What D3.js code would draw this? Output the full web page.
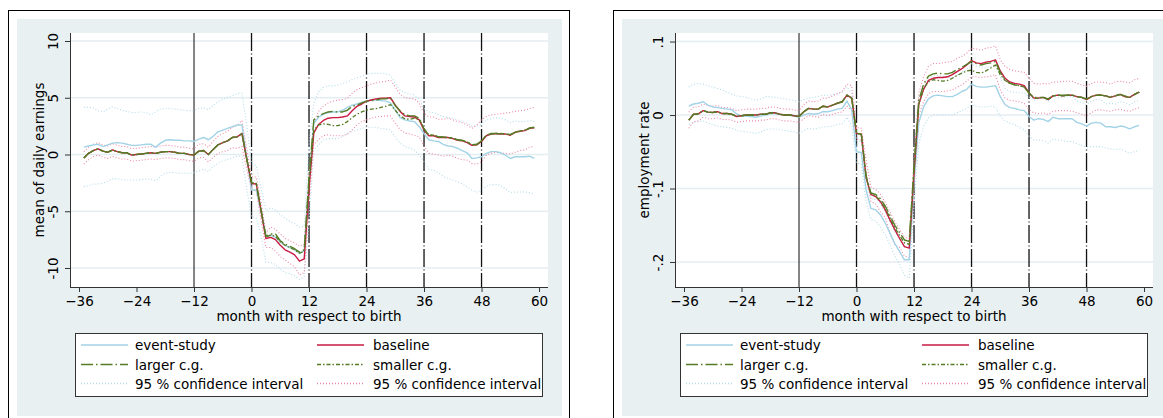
<!DOCTYPE html>
<html><head><meta charset="utf-8">
<script src="https://cdn.jsdelivr.net/npm/d3@7"></script>
<style>
body{margin:0;background:#fff}
svg{display:block}
text{font-family:"DejaVu Sans",sans-serif;fill:#000;font-size:13.5px}
</style>
</head><body>
<svg id="c" width="1163" height="418"></svg>
<script>
// ---------------- data ----------------
const months = d3.range(-35, 60);           // -35 ... 59
const xTickValues = [-36,-24,-12,0,12,24,36,48,60];
const solidRefMonths = [-12];
const dashedRefMonths = [0,12,24,36,48];
const xTitle = "month with respect to birth";
const legendLabels = ["event-study","baseline","larger c.g.","smaller c.g.","95 % confidence interval","95 % confidence interval"];

// left panel: mean of daily earnings
const earnTicks = [10,5,0,-5,-10];
const earnTickLabels = ["10","5","0","-5","-10"];
const earnEventStudy = [
 0.65,0.75,0.85,0.9,0.7,0.85,1.0,1.05,1.0,0.9,0.8,0.8,0.85,0.9,0.9,0.65,1.0,1.25,1.3,1.25,1.25,1.2,1.2,1.15,1.35,1.5,1.3,1.6,2.0,2.15,2.3,2.45,2.6,2.6,-0.3,
 -3.1,-3.15,-5.0,-7.2,-7.1,-7.3,-7.7,-8.0,-8.2,-8.4,-8.7,-8.5,-2.5,
 2.75,3.3,3.55,3.7,3.75,3.75,3.9,4.15,4.35,4.45,4.6,4.7,4.8,4.8,4.75,4.7,4.55,3.9,3.25,3.05,2.95,2.9,2.45,1.85,1.3,1.2,1.15,0.9,0.75,0.7,0.55,0.35,0.15,-0.35,-0.3,-0.2,0.1,0.25,0.25,0.15,-0.05,-0.35,-0.2,-0.2,-0.2,-0.15,-0.35];
const earnEventStudyHi = [
 4.15,4.15,4.1,3.85,3.75,4.0,4.2,4.05,3.9,3.8,3.7,3.7,3.75,3.7,3.5,3.75,4.0,4.05,4.05,4.0,3.95,3.9,3.85,3.9,4.05,4.1,3.95,4.3,4.65,4.85,5.05,5.2,5.35,5.4,2.6,
 -0.8,-1.0,-3.0,-4.9,-4.7,-4.9,-5.3,-5.6,-5.9,-6.1,-6.4,-6.3,1.0,
 4.5,5.55,5.9,6.05,6.05,6.1,6.25,6.4,6.6,6.75,6.9,7.05,7.15,7.15,7.15,7.1,7.0,6.25,5.7,5.45,5.35,5.25,4.8,4.05,3.75,3.7,3.5,3.35,3.25,3.2,3.05,2.9,2.75,2.5,2.5,2.65,3.05,3.15,3.25,3.2,3.05,2.8,2.95,2.9,2.9,3.0,2.9];
const earnEventStudyLo = [
 -2.85,-2.75,-2.6,-2.6,-2.55,-2.35,-2.15,-2.15,-2.2,-2.25,-2.25,-2.25,-2.2,-2.15,-2.2,-2.3,-1.95,-1.65,-1.6,-1.6,-1.65,-1.65,-1.65,-1.6,-1.45,-1.3,-1.5,-1.05,-0.8,-0.55,-0.45,-0.3,-0.15,-0.15,-3.0,
 -5.5,-5.6,-7.2,-9.5,-9.5,-9.7,-10.1,-10.4,-10.5,-10.7,-11.0,-10.8,-6.0,
 0.4,0.85,1.3,1.4,1.4,1.4,1.55,1.85,2.0,2.15,2.3,2.4,2.4,2.4,2.3,2.25,2.15,1.55,1.0,0.7,0.55,0.4,-0.05,-0.65,-1.3,-1.4,-1.6,-1.95,-2.1,-2.25,-2.4,-2.6,-2.85,-3.15,-3.3,-3.15,-2.8,-2.65,-2.65,-2.7,-3.05,-3.35,-3.3,-3.3,-3.3,-3.35,-3.5];
const earnBaseline = [
 -0.3,0.1,0.35,0.5,0.3,0.2,0.4,0.25,0.15,0.15,-0.05,0.0,0.05,0.1,0.15,0.1,0.2,0.25,0.25,0.2,0.1,0.1,0.0,-0.05,0.3,0.35,0.0,0.45,0.85,1.05,1.2,1.5,1.55,1.85,-0.4,
 -2.55,-2.6,-5.0,-7.4,-7.3,-7.5,-8.0,-8.4,-8.6,-8.85,-9.4,-9.2,-3.0,
 1.9,2.65,3.0,3.2,3.25,3.25,3.3,3.4,3.85,4.25,4.45,4.7,4.8,4.9,4.95,4.95,5.0,4.35,3.8,3.4,3.35,3.3,3.05,2.15,1.65,1.65,1.5,1.5,1.5,1.4,1.25,1.2,1.05,0.8,0.85,1.15,1.65,1.8,1.85,1.8,1.8,1.7,1.95,2.05,2.1,2.3,2.35];
const earnBaselineHi = [
 0.25,0.65,0.9,1.05,0.85,0.75,0.95,0.8,0.7,0.7,0.5,0.55,0.6,0.65,0.7,0.65,0.75,0.8,0.8,0.75,0.65,0.65,0.55,0.5,0.9,0.95,0.65,1.15,1.6,1.85,2.05,2.4,2.55,3.0,0.5,
 -1.95,-2.0,-4.2,-6.9,-6.4,-6.6,-7.0,-7.4,-7.6,-7.8,-8.1,-7.9,-1.8,
 2.9,3.8,4.25,4.55,4.7,4.8,4.85,4.95,5.4,5.7,5.9,6.05,6.2,6.3,6.4,6.45,6.55,5.95,5.3,5.0,4.95,4.9,4.5,3.65,3.3,3.3,3.1,3.1,3.2,3.05,2.9,2.8,2.6,2.3,2.6,3.05,3.35,3.5,3.55,3.6,3.65,3.7,3.8,3.85,3.9,4.05,4.15];
const earnBaselineLo = [
 -0.85,-0.45,-0.2,-0.05,-0.25,-0.35,-0.15,-0.3,-0.4,-0.4,-0.6,-0.55,-0.5,-0.45,-0.4,-0.45,-0.35,-0.3,-0.3,-0.35,-0.45,-0.45,-0.55,-0.6,-0.3,-0.25,-0.65,-0.25,0.1,0.25,0.35,0.6,0.55,0.7,-1.3,
 -3.15,-3.2,-5.8,-8.2,-8.2,-8.5,-9.0,-9.3,-9.6,-9.9,-10.6,-10.4,-4.2,
 0.9,1.3,1.65,1.75,1.65,1.65,1.65,1.8,2.15,2.6,2.9,3.05,3.2,3.3,3.35,3.4,3.4,2.75,2.2,1.9,1.8,1.7,1.55,0.75,0.1,0.05,-0.05,-0.15,-0.05,-0.15,-0.35,-0.45,-0.5,-0.8,-0.85,-0.65,-0.05,0.1,0.2,0.15,0.1,0.05,0.2,0.35,0.4,0.65,0.7];
const earnLargerCG = [
 -0.3,0.1,0.35,0.5,0.3,0.2,0.4,0.25,0.15,0.15,-0.05,0.0,0.05,0.1,0.15,0.1,0.2,0.25,0.25,0.2,0.1,0.1,0.0,-0.05,0.3,0.35,0.0,0.45,0.85,1.05,1.2,1.5,1.55,1.85,-0.35,
 -2.5,-2.55,-4.9,-7.2,-7.0,-7.0,-7.6,-7.9,-8.1,-8.3,-8.6,-8.4,-2.0,
 3.05,3.4,3.6,3.75,3.8,3.75,3.75,3.9,4.25,4.35,4.55,4.7,4.75,4.8,4.9,4.9,5.0,4.3,3.85,3.5,3.4,3.4,3.2,2.25,1.7,1.7,1.55,1.55,1.5,1.45,1.3,1.25,1.1,0.85,0.9,1.2,1.7,1.85,1.85,1.8,1.85,1.75,1.95,2.1,2.1,2.35,2.4];
const earnSmallerCG = [
 -0.3,0.1,0.35,0.5,0.3,0.2,0.4,0.25,0.15,0.15,-0.05,0.0,0.05,0.1,0.15,0.1,0.2,0.25,0.25,0.2,0.1,0.1,0.0,-0.05,0.3,0.35,0.0,0.45,0.85,1.05,1.2,1.5,1.55,1.85,-0.35,
 -2.5,-2.55,-4.95,-7.3,-7.1,-7.2,-7.7,-8.0,-8.2,-8.4,-8.7,-8.5,-2.5,
 2.15,2.6,2.7,2.65,2.55,2.55,2.65,2.9,3.25,3.55,3.75,3.9,4.0,4.05,4.15,4.25,4.4,3.9,3.4,3.15,3.1,3.2,3.1,2.3,1.7,1.7,1.55,1.5,1.5,1.45,1.3,1.2,1.1,0.85,0.85,1.2,1.7,1.8,1.85,1.85,1.8,1.75,1.95,2.05,2.15,2.3,2.35];

// right panel: employment rate
const empTicks = [0.1,0,-0.1,-0.2];
const empTickLabels = [".1","0","-.1","-.2"];
const empEventStudy = [
 0.012,0.015,0.016,0.018,0.0135,0.011,0.010,0.009,0.008,0.007,0.0015,-0.0015,-0.0015,-0.002,-0.003,-0.0015,0.0,0.002,0.002,0.001,0.0,0.0,-0.0015,-0.003,0.0,0.002,0.001,0.002,0.0045,0.0045,0.006,0.008,0.009,0.019,0.007,
 -0.050,-0.051,-0.102,-0.127,-0.129,-0.136,-0.147,-0.161,-0.175,-0.186,-0.197,-0.197,-0.09,
 -0.010,0.011,0.022,0.026,0.027,0.026,0.025,0.025,0.028,0.032,0.035,0.042,0.039,0.038,0.038,0.039,0.040,0.025,0.014,0.010,0.009,0.007,0.006,-0.002,-0.007,-0.005,-0.006,-0.009,-0.003,-0.005,-0.005,-0.005,-0.005,-0.010,-0.012,-0.015,-0.011,-0.010,-0.011,-0.016,-0.016,-0.017,-0.015,-0.016,-0.019,-0.016,-0.014];
const empEventStudyHi = [
 0.038,0.042,0.043,0.042,0.040,0.038,0.036,0.034,0.031,0.028,0.026,0.025,0.024,0.022,0.020,0.022,0.025,0.025,0.024,0.023,0.022,0.021,0.020,0.018,0.021,0.023,0.024,0.025,0.027,0.027,0.028,0.029,0.031,0.038,0.030,
 -0.035,-0.036,-0.087,-0.113,-0.115,-0.121,-0.132,-0.146,-0.159,-0.170,-0.180,-0.180,-0.07,
 0.022,0.040,0.050,0.053,0.054,0.053,0.051,0.051,0.054,0.058,0.062,0.070,0.066,0.065,0.065,0.066,0.068,0.052,0.036,0.032,0.031,0.030,0.030,0.025,0.020,0.023,0.022,0.019,0.026,0.024,0.024,0.025,0.025,0.019,0.017,0.014,0.019,0.021,0.021,0.015,0.016,0.015,0.018,0.017,0.014,0.018,0.020];
const empEventStudyLo = [
 -0.013,-0.010,-0.009,-0.008,-0.011,-0.013,-0.015,-0.016,-0.017,-0.018,-0.021,-0.022,-0.023,-0.024,-0.025,-0.023,-0.020,-0.019,-0.019,-0.020,-0.021,-0.022,-0.023,-0.025,-0.021,-0.018,-0.019,-0.018,-0.016,-0.016,-0.015,-0.013,-0.012,-0.003,-0.015,
 -0.065,-0.067,-0.118,-0.142,-0.144,-0.152,-0.163,-0.177,-0.192,-0.203,-0.218,-0.222,-0.12,
 -0.040,-0.015,-0.004,0.0,0.0,0.0,0.0,0.0,0.003,0.006,0.009,0.014,0.012,0.011,0.011,0.012,0.011,-0.002,-0.008,-0.011,-0.013,-0.017,-0.020,-0.029,-0.034,-0.034,-0.035,-0.038,-0.033,-0.034,-0.035,-0.036,-0.036,-0.039,-0.041,-0.044,-0.043,-0.043,-0.043,-0.045,-0.046,-0.047,-0.046,-0.049,-0.052,-0.050,-0.048];
const empBaseline = [
 -0.007,0.001,0.0015,0.006,0.004,0.0035,0.0045,0.002,0.002,0.001,-0.002,-0.001,0.0,0.0,0.0,0.001,0.001,0.003,0.003,0.001,0.0,0.0,-0.001,-0.002,0.0045,0.009,0.008,0.008,0.012,0.011,0.0135,0.016,0.018,0.027,0.023,
 -0.025,-0.026,-0.085,-0.108,-0.111,-0.118,-0.129,-0.143,-0.156,-0.168,-0.179,-0.181,-0.08,
 0.015,0.035,0.047,0.050,0.051,0.051,0.052,0.055,0.059,0.063,0.068,0.074,0.071,0.070,0.072,0.073,0.075,0.060,0.050,0.045,0.043,0.042,0.040,0.030,0.023,0.023,0.024,0.021,0.026,0.027,0.026,0.027,0.027,0.025,0.024,0.021,0.025,0.027,0.027,0.026,0.024,0.026,0.028,0.025,0.024,0.028,0.031];
const empBaselineHi = [
 0.004,0.011,0.011,0.015,0.013,0.012,0.013,0.010,0.010,0.009,0.006,0.007,0.008,0.008,0.008,0.009,0.009,0.011,0.011,0.009,0.008,0.008,0.007,0.006,0.014,0.019,0.018,0.019,0.023,0.023,0.026,0.029,0.032,0.042,0.040,
 -0.017,-0.018,-0.062,-0.098,-0.101,-0.108,-0.119,-0.132,-0.145,-0.156,-0.166,-0.168,-0.06,
 0.030,0.052,0.066,0.070,0.070,0.071,0.072,0.073,0.077,0.080,0.084,0.091,0.090,0.088,0.091,0.092,0.094,0.075,0.066,0.062,0.060,0.059,0.058,0.050,0.043,0.042,0.043,0.042,0.045,0.045,0.046,0.046,0.046,0.043,0.041,0.039,0.043,0.045,0.045,0.044,0.042,0.045,0.046,0.045,0.044,0.048,0.050];
const empBaselineLo = [
 -0.018,-0.009,-0.008,-0.003,-0.005,-0.005,-0.004,-0.006,-0.006,-0.007,-0.010,-0.009,-0.008,-0.008,-0.008,-0.007,-0.007,-0.005,-0.005,-0.007,-0.008,-0.008,-0.009,-0.010,-0.005,-0.001,-0.002,-0.003,0.001,-0.001,0.001,0.003,0.004,0.012,0.006,
 -0.033,-0.034,-0.078,-0.118,-0.121,-0.132,-0.139,-0.162,-0.177,-0.180,-0.192,-0.194,-0.10,
 0.000,0.018,0.029,0.032,0.032,0.032,0.033,0.034,0.038,0.041,0.046,0.052,0.052,0.051,0.052,0.053,0.055,0.034,0.023,0.020,0.019,0.018,0.016,0.007,0.003,0.002,0.003,0.001,0.005,0.006,0.006,0.006,0.005,0.003,0.001,-0.001,0.003,0.007,0.007,0.006,0.005,0.007,0.008,0.006,0.005,0.008,0.010];
const empLargerCG = [
 -0.007,0.001,0.0015,0.006,0.004,0.0035,0.0045,0.002,0.002,0.001,-0.002,-0.001,0.0,0.0,0.0,0.001,0.001,0.003,0.003,0.001,0.0,0.0,-0.001,-0.002,0.0045,0.009,0.008,0.008,0.012,0.011,0.0135,0.016,0.018,0.027,0.023,
 -0.025,-0.026,-0.083,-0.106,-0.108,-0.114,-0.124,-0.137,-0.150,-0.160,-0.170,-0.172,-0.07,
 0.020,0.042,0.053,0.056,0.057,0.056,0.056,0.058,0.062,0.065,0.069,0.073,0.070,0.068,0.070,0.071,0.073,0.058,0.048,0.043,0.041,0.040,0.038,0.030,0.024,0.024,0.024,0.022,0.026,0.027,0.027,0.027,0.027,0.025,0.024,0.022,0.025,0.027,0.027,0.026,0.025,0.026,0.028,0.026,0.024,0.028,0.031];
const empSmallerCG = [
 -0.007,0.001,0.0015,0.006,0.004,0.0035,0.0045,0.002,0.002,0.001,-0.002,-0.001,0.0,0.0,0.0,0.001,0.001,0.003,0.003,0.001,0.0,0.0,-0.001,-0.002,0.0045,0.009,0.008,0.008,0.012,0.011,0.0135,0.016,0.018,0.027,0.023,
 -0.025,-0.026,-0.085,-0.107,-0.110,-0.117,-0.127,-0.140,-0.153,-0.164,-0.174,-0.176,-0.075,
 0.015,0.036,0.045,0.048,0.047,0.046,0.047,0.050,0.054,0.057,0.060,0.061,0.058,0.057,0.060,0.064,0.068,0.055,0.047,0.043,0.041,0.040,0.038,0.030,0.023,0.023,0.024,0.021,0.026,0.027,0.026,0.027,0.027,0.025,0.024,0.021,0.025,0.027,0.027,0.026,0.024,0.026,0.028,0.025,0.024,0.028,0.031];

// ---------------- styles ----------------
const C_BLUE = "#a3d3e6", C_RED = "#c91a42", C_GREEN = "#557b25",
      C_BLUE_CI = "#b3dcea", C_RED_CI = "#eb86a4";
const seriesStyles = [
  {key:"es",   color:C_BLUE,   width:1.4, dash:null},
  {key:"base", color:C_RED,    width:1.4, dash:null},
  {key:"large",color:C_GREEN,  width:1.4, dash:"12,3,1.5,3"},
  {key:"small",color:C_GREEN,  width:1.3, dash:"4,2,1.5,2"},
  {key:"esCI", color:C_BLUE_CI,width:1.1, dash:"1,2"},
  {key:"baseCI",color:C_RED_CI,width:1.1, dash:"1,2"}
];

const svg = d3.select("#c");

function drawPanel(ox, cfg) {
  const g = svg.append("g").attr("transform", `translate(${ox},0)`);
  // outer frame + background
  g.append("rect").attr("x",8.5).attr("y",10.5).attr("width",561).attr("height",430)
    .attr("fill","#fff").attr("stroke","#000").attr("stroke-width",1);
  g.append("rect").attr("x",17).attr("y",19).attr("width",545).attr("height",397).attr("fill","#e9f0f2");
  const L = 70, R = 548, T = 33, B = 287;
  g.append("rect").attr("x",L).attr("y",T).attr("width",R-L).attr("height",B-T).attr("fill","#fff");

  const x = d3.scaleLinear().domain([-37.878, 61.87]).range([L, R]);
  const y = d3.scaleLinear().domain(cfg.yDomain).range([B, T]);

  // gridlines
  g.append("g").selectAll("line").data(cfg.ticks).join("line")
    .attr("x1",L).attr("x2",R).attr("y1",d=>y(d)).attr("y2",d=>y(d))
    .attr("stroke","#e4edf0").attr("stroke-width",1.6);

  // reference lines
  g.append("g").selectAll("line").data(solidRefMonths).join("line")
    .attr("x1",d=>x(d)).attr("x2",d=>x(d)).attr("y1",T).attr("y2",B)
    .attr("stroke","#222").attr("stroke-width",1.1);
  g.append("g").selectAll("line").data(dashedRefMonths).join("line")
    .attr("x1",d=>x(d)).attr("x2",d=>x(d)).attr("y1",T).attr("y2",B)
    .attr("stroke","#111").attr("stroke-width",1.3).attr("stroke-dasharray","18,2.5,1,2.5");

  // series
  const clipId = "clip" + ox;
  g.append("clipPath").attr("id",clipId).append("rect").attr("x",L).attr("y",T).attr("width",R-L).attr("height",B-T);
  const line = d3.line().x(d=>x(d[0])).y(d=>y(d[1]));
  const plotG = g.append("g").attr("clip-path",`url(#${clipId})`);
  const order = [
    ["esCI", cfg.esLo], ["esCI", cfg.esHi],
    ["baseCI", cfg.baseLo], ["baseCI", cfg.baseHi],
    ["es", cfg.es], ["base", cfg.base], ["small", cfg.small], ["large", cfg.large]
  ];
  order.forEach(([k, vals]) => {
    const st = seriesStyles.find(s => s.key === k);
    plotG.append("path").datum(months.map((m,i)=>[m, vals[i]]))
      .attr("d", line).attr("fill","none")
      .attr("stroke", st.color).attr("stroke-width", st.width)
      .attr("stroke-dasharray", st.dash).attr("stroke-linejoin","round");
  });

  // axes
  const yAxis = d3.axisLeft(y).tickValues(cfg.ticks).tickFormat((d,i)=>cfg.tickLabels[i]).tickSize(5).tickSizeOuter(0);
  const ya = g.append("g").attr("transform",`translate(${L},0)`).call(yAxis);
  ya.select(".domain").remove();
  ya.selectAll(".tick line").attr("stroke","#333");
  ya.selectAll(".tick text").attr("transform","rotate(-90)").attr("x",0).attr("y",-12)
    .attr("dy",0).attr("text-anchor","middle").attr("font-size","13.5px")
    .attr("font-family","DejaVu Sans").attr("fill","#000");
  g.append("line").attr("x1",L+0.5).attr("x2",L+0.5).attr("y1",T).attr("y2",B+0.5).attr("stroke","#333").attr("stroke-width",1);

  const xAxis = d3.axisBottom(x).tickValues(xTickValues).tickFormat(d3.format("d")).tickSize(5).tickSizeOuter(0);
  const xa = g.append("g").attr("transform",`translate(0,${B})`).call(xAxis);
  xa.select(".domain").remove();
  xa.selectAll(".tick line").attr("stroke","#333");
  xa.selectAll(".tick text").attr("y",19).attr("dy",0).attr("font-size","13.5px")
    .attr("font-family","DejaVu Sans").attr("fill","#000");
  g.append("line").attr("x1",L).attr("x2",R).attr("y1",B+0.5).attr("y2",B+0.5).attr("stroke","#333").attr("stroke-width",1);

  // titles
  g.append("text").attr("x",(L+R)/2).attr("y",320.5).attr("text-anchor","middle").text(xTitle);
  g.append("text").attr("transform",`translate(44,${(T+B)/2}) rotate(-90)`).attr("text-anchor","middle").text(cfg.yTitle);

  // legend
  const lg = g.append("g");
  lg.append("rect").attr("x",75.5).attr("y",333.5).attr("width",467).attr("height",63)
    .attr("fill","#fff").attr("stroke","#333").attr("stroke-width",1);
  const cols = [{sx:81, tx:135},{sx:317, tx:373}];
  const rowsY = [345, 364.5, 383.5];
  const keys = ["es","base","large","small","esCI","baseCI"];
  keys.forEach((k,i)=>{
    const c = cols[i%2], r = rowsY[Math.floor(i/2)];
    const st = seriesStyles.find(s=>s.key===k);
    lg.append("line").attr("x1",c.sx).attr("x2",c.sx+47).attr("y1",r).attr("y2",r)
      .attr("stroke",st.color).attr("stroke-width",st.width+0.3).attr("stroke-dasharray",st.dash);
    lg.append("text").attr("x",c.tx).attr("y",r+5).text(legendLabels[i]);
  });
}

drawPanel(0, {
  yDomain:[-11.674, 10.705], ticks:earnTicks, tickLabels:earnTickLabels, yTitle:"mean of daily earnings",
  es:earnEventStudy, esHi:earnEventStudyHi, esLo:earnEventStudyLo,
  base:earnBaseline, baseHi:earnBaselineHi, baseLo:earnBaselineLo,
  large:earnLargerCG, small:earnSmallerCG
});
drawPanel(605, {
  yDomain:[-0.234, 0.1116], ticks:empTicks, tickLabels:empTickLabels, yTitle:"employment rate",
  es:empEventStudy, esHi:empEventStudyHi, esLo:empEventStudyLo,
  base:empBaseline, baseHi:empBaselineHi, baseLo:empBaselineLo,
  large:empLargerCG, small:empSmallerCG
});
</script>
</body></html>
